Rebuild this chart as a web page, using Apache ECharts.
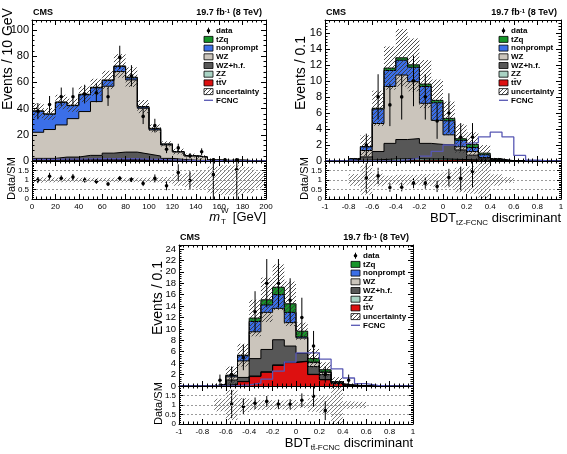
<!DOCTYPE html>
<html>
<head>
<meta charset="utf-8">
<script src="https://cdn.jsdelivr.net/npm/echarts@6/dist/echarts.min.js"></script>
<style>
  html, body { margin: 0; padding: 0; background: #fff; }
  #chart { width: 567px; height: 454px; }
</style>
</head>
<body>
<div id="chart"></div>
<script>
const FONT = "'Liberation Sans', Arial, sans-serif";

// bin edges
let mtEdges = [0, 10, 20, 30, 40, 50, 60, 70, 80, 90, 100, 110, 120, 130, 140, 150, 160, 170, 180, 190, 200];
let bdtEdges = [-1, -0.9, -0.8, -0.7, -0.6, -0.5, -0.4, -0.3, -0.2, -0.1, 0, 0.1, 0.2, 0.3, 0.4, 0.5, 0.6, 0.7, 0.8, 0.9, 1];

// ---- m_T^W ----
let mtTtv       = [0.2, 0.2, 0.2, 0.3, 0.3, 0.3, 0.3, 0.3, 0.3, 0.3, 0.2, 0.2, 0.1, 0.1, 0.1, 0.05, 0.05, 0.05, 0.02, 0.02];
let mtZz        = [0.6, 0.6, 0.7, 0.7, 0.8, 0.8, 0.9, 0.9, 0.8, 0.6, 0.4, 0.3, 0.2, 0.1, 0.1, 0.05, 0.03, 0.03, 0.02, 0.02];
let mtWzhf      = [1.2, 1.2, 2.1, 2.0, 3.2, 3.2, 4.8, 5.6, 5.7, 4.4, 3.2, 1.5, 0.9, 0.4, 0.2, 0.05, 0.02, 0.02, 0.01, 0.01];
let mtWz        = [19.9, 22, 24.5, 29.3, 33.4, 41, 51, 61.4, 55, 34.9, 19.9, 10.2, 5.7, 3.3, 2.5, 0.55, 0.3, 0.5, 0.2, 0.1];
let mtNonprompt = [16.1, 11.7, 17.2, 9.9, 12.8, 10.5, 4.3, 3.8, 1.6, 0.9, 0.9, 0.6, 0.2, 0.1, 0.1, 0.05, 0.03, 0.03, 0.03, 0.03];
let mtTzq       = [0.2, 0.2, 0.3, 0.3, 0.4, 0.4, 0.5, 0.5, 0.5, 0.4, 0.3, 0.2, 0.1, 0.1, 0.05, 0.03, 0.02, 0.02, 0.01, 0.01];
let mtFcnc      = [1.2, 1.3, 1.4, 1.5, 1.6, 1.7, 1.7, 1.8, 1.7, 1.5, 1.2, 0.9, 0.6, 0.4, 0.3, 0.2, 0.1, 0.1, 0.05, 0.05];
let mtUnc       = [5.5, 4.5, 5.5, 5, 6, 6.5, 7, 9, 7.5, 5, 3, 2, 2.2, 1.5, 1.4, 0.55, 0.35, 0.5, 0.2, 0.08];
let mtData      = [38, 43, 49, 49, 51, 52, 49, 79, 65, 34, 27, 9, 10, 4, 7, 1, 1, 1, 0, 0];

// ---- BDT tZ-FCNC ----
let tzTtv       = [0, 0, 0, 0.01, 0.03, 0.05, 0.08, 0.1, 0.1, 0.12, 0.12, 0.1, 0.08, 0.05, 0.02, 0.01, 0, 0, 0, 0];
let tzZz        = [0, 0, 0.05, 0.1, 0.15, 0.2, 0.2, 0.2, 0.15, 0.15, 0.1, 0.08, 0.05, 0.03, 0.01, 0, 0, 0, 0, 0];
let tzWzhf      = [0, 0, 0.05, 0.4, 1.0, 1.95, 2.4, 2.5, 1.95, 1.8, 1.8, 1.2, 0.6, 0.2, 0.07, 0.01, 0, 0, 0, 0];
let tzWz        = [0, 0, 0.1, 0.8, 3.5, 7.1, 8.05, 7.1, 5.0, 3.0, 1.25, 0.4, 0.45, 0.15, 0.05, 0.01, 0, 0, 0, 0];
let tzNonprompt = [0, 0, 0.08, 0.45, 1.8, 2.0, 1.85, 1.8, 2.1, 2.2, 1.75, 0.8, 0.5, 0.35, 0.1, 0.01, 0, 0, 0, 0];
let tzTzq       = [0, 0, 0.01, 0.05, 0.1, 0.3, 0.3, 0.3, 0.3, 0.3, 0.3, 0.2, 0.4, 0.2, 0.05, 0, 0, 0, 0, 0];
let tzFcnc      = [0, 0, 0, 0, 0, 0.05, 0.15, 0.35, 0.6, 1.2, 2.0, 2.2, 2.3, 3.0, 3.6, 3.0, 0.7, 0.1, 0, 0];
let tzUnc       = [0, 0, 0.09, 1.4, 2.2, 2.7, 3.6, 3.3, 3.0, 2.6, 2.1, 1.8, 1.5, 1.0, 0.09, 0.006, 0, 0, 0, 0];
let tzData      = [0, 0, 0, 2, 8, 7, 8, 10, 8, 5, 6, 3, 3, 0, 0, 0, 0, 0, 0, 0];

// ---- BDT tt-FCNC ----
let ttTtv       = [0, 0, 0, 0.05, 0.2, 0.75, 1.65, 2.4, 3.6, 4.1, 4.3, 2.0, 1.1, 0.45, 0.1, 0.02, 0, 0, 0, 0];
let ttZz        = [0, 0, 0, 0.02, 0.05, 0.05, 0.1, 0.1, 0.1, 0.1, 0.05, 0.05, 0.02, 0.01, 0, 0, 0, 0, 0, 0];
let ttWzhf      = [0, 0, 0, 0.1, 0.8, 0.7, 3.05, 3.9, 4.4, 2.8, 1.35, 1.35, 0.88, 0.19, 0.03, 0.01, 0, 0, 0, 0];
let ttWz        = [0, 0, 0, 0.1, 0.55, 2.9, 4.7, 6.5, 5.5, 4.1, 2.7, 0.7, 0.4, 0.05, 0.01, 0, 0, 0, 0, 0];
let ttNonprompt = [0, 0, 0, 0.03, 0.2, 0.9, 1.8, 1.3, 2.4, 1.8, 0.2, 0.1, 0.05, 0, 0, 0, 0, 0, 0, 0];
let ttTzq       = [0, 0, 0, 0, 0.1, 0.1, 0.6, 0.9, 1.3, 1.5, 1.0, 0.6, 0.4, 0.05, 0.01, 0, 0, 0, 0, 0];
let ttFcnc      = [0, 0, 0, 0, 0, 0.2, 0.5, 1.2, 2.6, 4.2, 5.8, 5.8, 4.7, 3.0, 1.4, 0.4, 0.1, 0, 0, 0];
let ttUnc       = [0, 0, 0, 0.1, 1.5, 2.0, 3.2, 3.9, 4.0, 3.9, 1.5, 1.7, 1.3, 0.8, 0.03, 0.005, 0, 0, 0, 0];
let ttData      = [0, 0, 0, 1, 2, 5, 13, 18, 18, 15, 12, 7, 2, 0, 1, 0, 0, 0, 0, 0];

// stack order bottom -> top: ttV, ZZ, WZ+h.f., WZ, nonprompt, tZq
let layerColors = ['#dd1010', '#a9d3c4', '#575757', '#cbc5bc', '#3b6fe8', '#17952a'];
let fcncColor = '#5858b4';

let panels = [
  { edges: mtEdges, layers: [mtTtv, mtZz, mtWzhf, mtWz, mtNonprompt, mtTzq], fcnc: mtFcnc, unc: mtUnc, data: mtData,
    xMin: 0, xMax: 200, xStep: 20, yMax: 107.5, yStep: 20, yFont: 11, yTitle: 'Events / 10 GeV', titleGap: 24 },
  { edges: bdtEdges, layers: [tzTtv, tzZz, tzWzhf, tzWz, tzNonprompt, tzTzq], fcnc: tzFcnc, unc: tzUnc, data: tzData,
    xMin: -1, xMax: 1, xStep: 0.2, yMax: 17.6, yStep: 2, yFont: 11, yTitle: 'Events / 0.1', titleGap: 24 },
  { edges: bdtEdges, layers: [ttTtv, ttZz, ttWzhf, ttWz, ttNonprompt, ttTzq], fcnc: ttFcnc, unc: ttUnc, data: ttData,
    xMin: -1, xMax: 1, xStep: 0.2, yMax: 24.7, yStep: 2, yFont: 9.5, yTitle: 'Events / 0.1', titleGap: 21 }
];

let grids = [
  { left: 32, top: 20, width: 234, height: 141 },
  { left: 32, top: 161, width: 234, height: 38 },
  { left: 325, top: 20, width: 236, height: 141 },
  { left: 325, top: 161, width: 236, height: 38 },
  { left: 179, top: 245, width: 234, height: 141 },
  { left: 179, top: 386, width: 234, height: 38 }
];

function hatchCanvas(color, size, width) {
  let c = document.createElement('canvas');
  c.width = size; c.height = size;
  let ctx = c.getContext('2d');
  ctx.strokeStyle = color;
  ctx.lineWidth = width;
  ctx.beginPath();
  ctx.moveTo(0, size); ctx.lineTo(size, 0);
  ctx.moveTo(-1, 1); ctx.lineTo(1, -1);
  ctx.moveTo(size - 1, size + 1); ctx.lineTo(size + 1, size - 1);
  ctx.stroke();
  return c;
}
let mainHatch = { image: hatchCanvas('#3a3a3a', 4, 0.9), repeat: 'repeat' };
let ratioHatch = { image: hatchCanvas('#6a6a6a', 4, 0.9), repeat: 'repeat' };

function stepPoints(edges, vals) {
  let pts = vals.map((v, i) => [edges[i], v]);
  pts.push([edges[edges.length - 1], vals[vals.length - 1]]);
  return pts;
}

function makeAxis(gridIndex, pos, min, max, step, label, tickLen, minorSplit) {
  return {
    type: 'value', gridIndex: gridIndex, position: pos, min: min, max: max, interval: step,
    silent: true, z: 10,
    axisLine: { show: true, onZero: false, lineStyle: { color: '#000', width: 1 } },
    axisTick: { show: true, inside: true, length: tickLen, lineStyle: { color: '#000', width: 1 } },
    minorTick: { show: true, splitNumber: minorSplit, length: tickLen / 2, lineStyle: { color: '#000', width: 1 } },
    axisLabel: label || { show: false },
    splitLine: { show: false }
  };
}

function renderBand(fill) {
  return function (params, api) {
    let p0 = api.coord([api.value(0), api.value(3)]);
    let p1 = api.coord([api.value(1), api.value(2)]);
    return {
      type: 'rect',
      shape: { x: p0[0], y: p0[1], width: p1[0] - p0[0], height: p1[1] - p0[1] },
      style: { fill: fill, stroke: null }
    };
  };
}

function renderPoints(params, api) {
  let x = api.value(0), y = api.value(1), e = api.value(2);
  let c = api.coord([x, y]);
  let lo = api.coord([x, y - e]);
  let hi = api.coord([x, y + e]);
  return {
    type: 'group',
    children: [
      { type: 'line', shape: { x1: c[0], y1: lo[1], x2: c[0], y2: hi[1] }, style: { stroke: '#000', lineWidth: 1 } },
      { type: 'circle', shape: { cx: c[0], cy: c[1], r: 1.8 }, style: { fill: '#000' } }
    ]
  };
}

function txt(x, y, text, font, align, extra) {
  let t = { type: 'text', x: x, y: y,
    style: { text: text, font: font, fill: '#000', align: align, textAlign: align, verticalAlign: 'middle', textVerticalAlign: 'middle' } };
  return Object.assign(t, extra || {});
}

let xAxes = [], yAxes = [], series = [], graphics = [];

panels.forEach((p, k) => {
  let gMain = 2 * k, gRatio = 2 * k + 1;
  let xlab = { show: true, fontSize: 8, color: '#000', margin: 4, fontFamily: FONT };
  let ylabMain = { show: true, fontSize: p.yFont, color: '#000', margin: 3, fontFamily: FONT, showMaxLabel: false };
  let ylabRatio = { show: true, fontSize: 8, color: '#000', margin: 3, fontFamily: FONT, showMaxLabel: false };

  // x axes: main bottom, main top, ratio bottom, ratio top
  xAxes.push(makeAxis(gMain, 'bottom', p.xMin, p.xMax, p.xStep, null, 5, 5));
  xAxes.push(makeAxis(gMain, 'top', p.xMin, p.xMax, p.xStep, null, 5, 5));
  xAxes.push(makeAxis(gRatio, 'bottom', p.xMin, p.xMax, p.xStep, xlab, 5, 5));
  xAxes.push(makeAxis(gRatio, 'top', p.xMin, p.xMax, p.xStep, null, 5, 5));
  yAxes.push(makeAxis(gMain, 'left', 0, p.yMax, p.yStep, ylabMain, 5, 5));
  yAxes.push(makeAxis(gMain, 'right', 0, p.yMax, p.yStep, null, 5, 5));
  let ry = makeAxis(gRatio, 'left', 0, 2, 0.5, ylabRatio, 4, 5);
  ry.splitLine = { show: true, lineStyle: { color: '#9a9a9a', width: 1, type: [2, 2] } };
  yAxes.push(ry);
  yAxes.push(makeAxis(gRatio, 'right', 0, 2, 0.5, null, 4, 5));

  let xi = 4 * k, yi = 4 * k;       // main axes
  let xr = 4 * k + 2, yr = 4 * k + 2; // ratio axes

  // cumulative stack
  let cum = [];
  let run = p.layers[0].map(() => 0);
  p.layers.forEach(l => {
    run = run.map((r, i) => r + l[i]);
    cum.push(run);
  });
  let total = cum[cum.length - 1];

  for (let j = cum.length - 1; j >= 0; j--) {
    series.push({
      type: 'line', xAxisIndex: xi, yAxisIndex: yi, silent: true,
      data: stepPoints(p.edges, cum[j]), step: 'end', symbol: 'none', z: 2,
      lineStyle: { color: '#000', width: 1 },
      areaStyle: { color: layerColors[j], opacity: 1 }
    });
  }

  // uncertainty band on the stack
  let band = [], rband = [];
  total.forEach((t, i) => {
    if (t > 0) {
      band.push([p.edges[i], p.edges[i + 1], Math.max(0, t - p.unc[i]), t + p.unc[i]]);
      rband.push([p.edges[i], p.edges[i + 1], 1 - p.unc[i] / t, 1 + p.unc[i] / t]);
    }
  });
  series.push({
    type: 'custom', xAxisIndex: xi, yAxisIndex: yi, silent: true, clip: true, z: 3,
    renderItem: renderBand(mainHatch), encode: { x: [0, 1], y: [2, 3] }, data: band
  });

  series.push({
    type: 'line', xAxisIndex: xi, yAxisIndex: yi, silent: true,
    data: stepPoints(p.edges, p.fcnc), step: 'end', symbol: 'none', z: 4,
    lineStyle: { color: fcncColor, width: 1.3 }
  });

  // data points
  let pts = [], rpts = [];
  p.data.forEach((n, i) => {
    if (n <= 0) return;
    let xc = (p.edges[i] + p.edges[i + 1]) / 2;
    pts.push([xc, n, Math.sqrt(n)]);
    if (total[i] > 0 && n / total[i] <= 2) rpts.push([xc, n / total[i], Math.sqrt(n) / total[i]]);
  });
  series.push({
    type: 'custom', xAxisIndex: xi, yAxisIndex: yi, silent: true, clip: true, z: 5,
    renderItem: renderPoints, encode: { x: 0, y: 1 }, data: pts
  });

  // ratio panel
  series.push({
    type: 'custom', xAxisIndex: xr, yAxisIndex: yr, silent: true, clip: true, z: 3,
    renderItem: renderBand(ratioHatch), encode: { x: [0, 1], y: [2, 3] }, data: rband
  });
  series.push({
    type: 'custom', xAxisIndex: xr, yAxisIndex: yr, silent: true, clip: true, z: 5,
    renderItem: renderPoints, encode: { x: 0, y: 1 }, data: rpts
  });

  // legend
  let g = grids[gMain];
  let lx = g.left + g.width - 62, ly = g.top + 10.7;
  let names = ['data', 'tZq', 'nonprompt', 'WZ', 'WZ+h.f.', 'ZZ', 'tt\u0304V', 'uncertainty', 'FCNC'];
  names.forEach((name, i) => {
    let cy = ly + i * 8.7;
    if (i === 0) {
      graphics.push({ type: 'line', shape: { x1: lx + 4.5, y1: cy - 3, x2: lx + 4.5, y2: cy + 3 }, style: { stroke: '#000', lineWidth: 1 } });
      graphics.push({ type: 'circle', shape: { cx: lx + 4.5, cy: cy, r: 1.8 }, style: { fill: '#000' } });
    } else if (name === 'FCNC') {
      graphics.push({ type: 'line', shape: { x1: lx, y1: cy, x2: lx + 9, y2: cy }, style: { stroke: fcncColor, lineWidth: 1.3 } });
    } else {
      let fill = name === 'uncertainty' ? mainHatch : layerColors[6 - i];
      graphics.push({ type: 'rect', shape: { x: lx, y: cy - 3, width: 9, height: 6 }, style: { fill: fill, stroke: '#000', lineWidth: 0.8 } });
    }
    graphics.push(txt(lx + 12, cy, name, 'bold 8px ' + FONT, 'left'));
  });

  // CMS + lumi header
  graphics.push(txt(g.left + 1, g.top - 7, 'CMS', 'bold 9px ' + FONT, 'left'));
  let lumi = txt(g.left + g.width - 4, g.top - 7, '19.7 fb{s|-1} (8 TeV)', 'bold 9px ' + FONT, 'right');
  lumi.style.rich = { s: { fontSize: 6, fontWeight: 'bold', fontFamily: FONT, verticalAlign: 'top', lineHeight: 9 } };
  graphics.push(lumi);

  // y titles
  let gr = grids[gRatio];
  graphics.push(txt(g.left - p.titleGap, g.top + 90, p.yTitle, '14px ' + FONT, 'left', { rotation: Math.PI / 2 }));
  graphics.push(txt(gr.left - 20, gr.top + gr.height + 1, 'Data/SM', '11px ' + FONT, 'left', { rotation: Math.PI / 2 }));
});

// x titles
let xt1 = grids[1], xt2 = grids[3], xt3 = grids[5];
let xb1 = xt1.top + xt1.height;
graphics.push(txt(xt1.left + xt1.width, xb1 + 18, '[GeV]', '13px ' + FONT, 'right'));
graphics.push(txt(xt1.left + xt1.width - 46, xb1 + 18, 'm', 'italic 13px ' + FONT, 'right'));
graphics.push(txt(xt1.left + xt1.width - 45, xb1 + 12, 'W', '8px ' + FONT, 'left'));
graphics.push(txt(xt1.left + xt1.width - 45, xb1 + 23, 'T', '8px ' + FONT, 'left'));
[[xt2, 'tZ-FCNC'], [xt3, 'tt\u0304-FCNC']].forEach(([gg, sub]) => {
  let t = txt(gg.left + gg.width, gg.top + gg.height + 19, '{n|BDT}{s|' + sub + '}{n| discriminant}', '13px ' + FONT, 'right');
  t.style.rich = {
    n: { fontSize: 13, fontFamily: FONT, lineHeight: 18 },
    s: { fontSize: 8, fontFamily: FONT, verticalAlign: 'bottom', lineHeight: 8 }
  };
  graphics.push(t);
});

let myChart = echarts.init(document.getElementById('chart'));
myChart.setOption({
  animation: false,
  backgroundColor: '#fff',
  textStyle: { fontFamily: FONT },
  grid: grids,
  xAxis: xAxes,
  yAxis: yAxes,
  series: series,
  graphic: graphics
});
</script>
</body>
</html>
